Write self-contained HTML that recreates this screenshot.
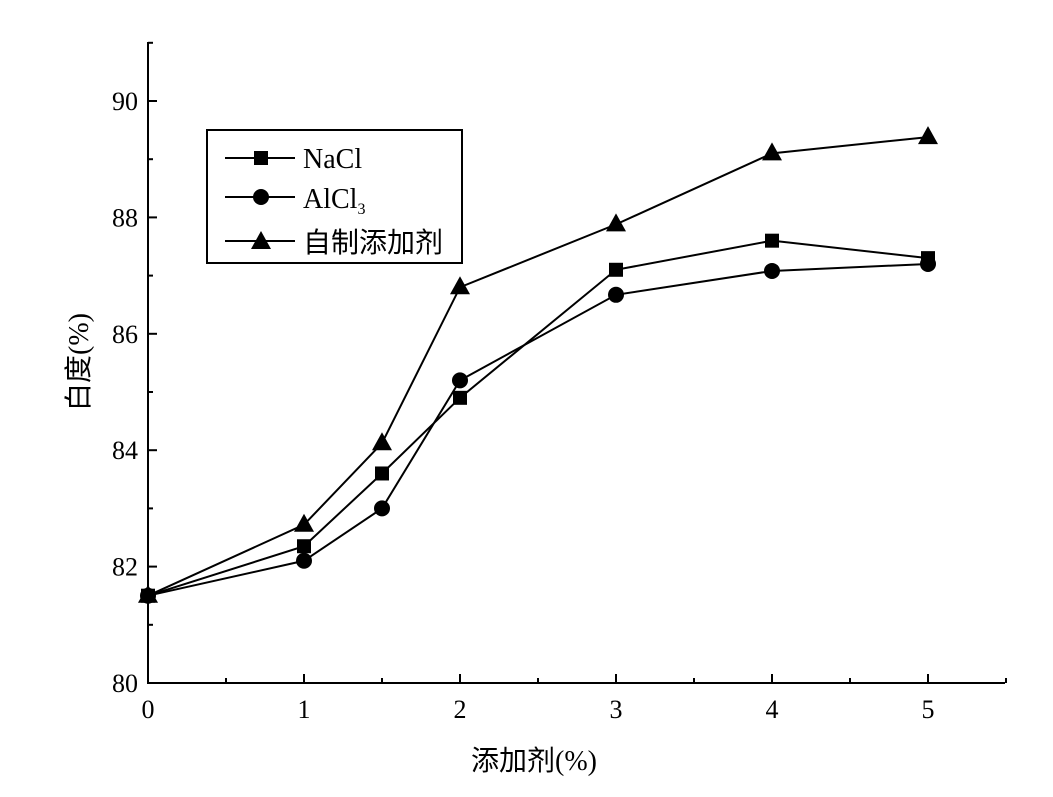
<!DOCTYPE html>
<html><head><meta charset="utf-8"><style>
body{margin:0;background:#fff}
svg{display:block;font-family:"Liberation Serif","Noto Serif CJK SC",serif}
</style></head><body>
<svg id="chart" width="1053" height="797">
<g id="axes"></g>
<g id="series"></g>
<g id="legend">
<rect x="207" y="130" width="255" height="133" fill="#fff" stroke="#000" stroke-width="2"/>
<g>
<line x1="225" y1="158" x2="295" y2="158" stroke="#000" stroke-width="2"/>
<rect x="254" y="151" width="14" height="14" fill="#000"/>
<text x="303" y="168" font-size="28">NaCl</text></g>
<g>
<line x1="225" y1="197" x2="295" y2="197" stroke="#000" stroke-width="2"/>
<circle cx="261" cy="197" r="8" fill="#000"/>
<text x="303" y="208" font-size="28">AlCl<tspan font-size="16" dy="6">3</tspan></text></g>
<g>
<line x1="225" y1="241" x2="295" y2="241" stroke="#000" stroke-width="2"/>
<polygon points="261,231 251,249 271,249" fill="#000"/>
<text x="303" y="252" font-size="28" font-family="'Noto Sans CJK SC',sans-serif">自制添加剂</text></g>
</g>
<text x="534" y="770" font-size="28" text-anchor="middle"><tspan font-family="'Noto Sans CJK SC',sans-serif">添加剂</tspan>(%)</text>
<text transform="translate(88,362) rotate(-90)" font-size="28" text-anchor="middle"><tspan font-family="'Noto Sans CJK SC',sans-serif">白度</tspan>(%)</text>
</svg>
<script>
const categories=[0,1,1.5,2,3,4,5];
const nacl=[81.5,82.35,83.6,84.9,87.1,87.6,87.3];
const alcl3=[81.5,82.1,83.0,85.2,86.67,87.08,87.2];
const homemade=[81.5,82.72,84.12,86.8,87.88,89.1,89.38];
const xTicks=[0,1,2,3,4,5];
const yTicks=[80,82,84,86,88,90];
const NS="http://www.w3.org/2000/svg";
const X0=148,Y0=683;
function xs(v){return X0+v*156;}
function ys(v){return Y0-(v-80)*58.2;}
function mk(tag,attrs,parent){const e=document.createElementNS(NS,tag);for(const k in attrs)e.setAttribute(k,attrs[k]);parent.appendChild(e);return e;}
const ax=document.getElementById('axes');
let l=mk('line',{x1:X0,y1:42,x2:X0,y2:Y0+1,stroke:'#000','stroke-width':2},ax);


l=mk('line',{x1:X0-1,y1:Y0,x2:1005,y2:Y0,stroke:'#000','stroke-width':2},ax);


for(let v=0;v<=5.5;v+=0.5){const maj=Number.isInteger(v);mk('line',{x1:xs(v),y1:Y0,x2:xs(v),y2:Y0-(maj?9:5),stroke:'#000','stroke-width':2},ax);}
xTicks.forEach(v=>{const t=mk('text',{x:xs(v),y:Y0+35,'font-size':26,'text-anchor':'middle'},ax);t.textContent=v;

});
for(let v=81;v<=91;v++){const maj=v%2===0;mk('line',{x1:X0,y1:ys(v),x2:X0+(maj?9:5),y2:ys(v),stroke:'#000','stroke-width':2},ax);}
yTicks.forEach(v=>{const t=mk('text',{x:X0-10,y:ys(v)+9,'font-size':26,'text-anchor':'end'},ax);t.textContent=v;

});
const sg=document.getElementById('series');
function draw(vals,name,shape){
 const g=mk('g',{},sg);
 
 
 const p=mk('polyline',{points:vals.map((v,i)=>xs(categories[i])+','+ys(v)).join(' '),fill:'none',stroke:'#000','stroke-width':2},g);
 
 
 vals.forEach((v,i)=>{const x=xs(categories[i]),y=ys(v);let m;
  if(shape==='sq')m=mk('rect',{x:x-7,y:y-7,width:14,height:14,fill:'#000'},g);
  else if(shape==='ci')m=mk('circle',{cx:x,cy:y,r:8,fill:'#000'},g);
  else m=mk('polygon',{points:`${x},${y-11} ${x-10},${y+7} ${x+10},${y+7}`,fill:'#000'},g);
  
  });
}
draw(nacl,'nacl','sq');
draw(alcl3,'alcl3','ci');
draw(homemade,'homemade','tr');
</script>
</body></html>
